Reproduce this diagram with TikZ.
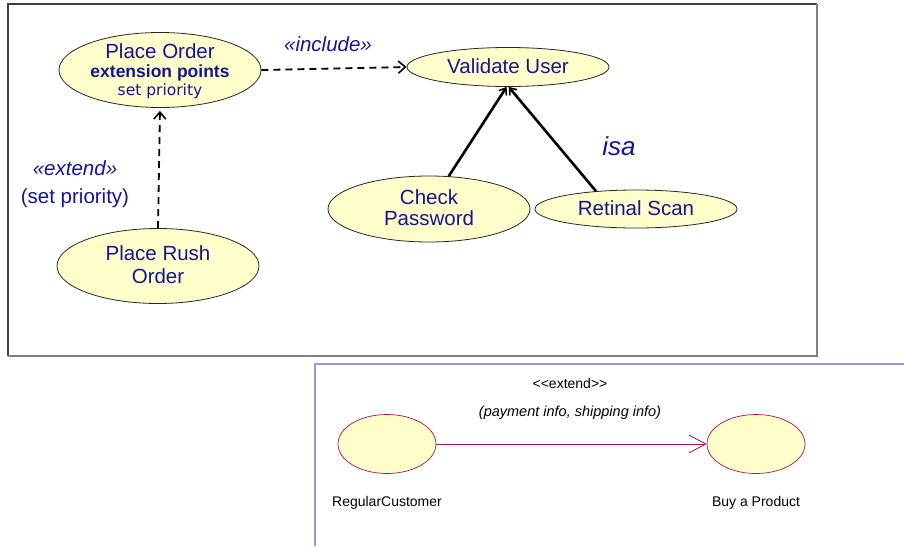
\documentclass[tikz,border=0pt]{standalone}
\usepackage{fontspec}
\setmainfont{Liberation Sans}
\newfontfamily\verd{DejaVu Sans}
\usetikzlibrary{shapes.geometric,arrows.meta}
\definecolor{navy}{RGB}{20,20,150}
\definecolor{ufill}{RGB}{255,255,204}
\definecolor{ured}{RGB}{170,20,70}
\definecolor{lblue}{RGB}{150,150,225}
\begin{document}
\begin{tikzpicture}[x=1pt,y=-1pt,
  uc/.style={ellipse, draw=black!85, line width=0.8pt, fill=ufill, inner sep=0pt},
  ucr/.style={ellipse, draw=ured, line width=0.7pt, fill=ufill, inner sep=0pt, minimum width=98pt, minimum height=59pt},
  lbl/.style={text=navy, inner sep=0pt, align=center, font=\fontsize{20.5}{23}\selectfont},
  small/.style={inner sep=0pt, font=\fontsize{14}{16}\selectfont},
  dashconn/.style={line width=1.8pt, dash pattern=on 7pt off 5pt, -{Straight Barb[length=7pt,width=12pt,line width=1.6pt]}},
  isaconn/.style={line width=2.6pt, -{Straight Barb[length=6pt,width=9pt,line width=1.6pt]}}
]
\useasboundingbox (0,0) rectangle (904,546);
% frames
\draw[line width=1.3pt, black!75] (8,356) -- (8,4) -- (817,4);
\draw[line width=1.3pt, black!50] (817,4) -- (817,356) -- (8,356);
\draw[line width=1.1pt, lblue] (904,364) -- (315,364) -- (315,546);

% use cases (top)
\node[uc, minimum width=202pt, minimum height=75pt] (po) at (160,70) {};
\node[uc, minimum width=202pt, minimum height=75pt] (pr) at (158,266) {};
\node[uc, minimum width=202pt, minimum height=39pt] (vu) at (508,67) {};
\node[uc, minimum width=202pt, minimum height=66pt] (cp) at (429,209) {};
\node[uc, minimum width=202pt, minimum height=38pt] (rs) at (636,209) {};

\node[lbl] (poT) at (160,51) {Place Order};
\node[lbl, font=\bfseries\fontsize{17.5}{20}\selectfont] (poE) at (160,72.5) {extension points};
\node[lbl, font=\verd\fontsize{15.5}{17}\selectfont] (poS) at (160,91) {set priority};
\node[lbl] (prT) at (158,265) {Place Rush\\Order};
\node[lbl] (vuT) at (508,66) {Validate User};
\node[lbl, align=center, font=\fontsize{20.5}{21}\selectfont] (cpT) at (429,208) {Check\\Password};
\node[lbl] (rsT) at (636,208) {Retinal Scan};

\node[lbl, font=\itshape\fontsize{20.5}{23}\selectfont] (inc) at (328,44) {«include»};
\node[lbl, font=\itshape\fontsize{20.5}{23}\selectfont] (ext) at (75,168) {«extend»};
\node[lbl] (sp) at (75,198) {(set priority)};
\node[lbl, font=\itshape\fontsize{26}{28}\selectfont] (isa) at (619,146) {isa};

% connectors (top)
\draw[dashconn] (po.east) -- (vu.west);
\draw[dashconn, shorten >=3pt] (pr.north) -- (po.south);
\draw[isaconn] (cp.59) -- (vu.266);
\draw[isaconn] (rs.156) -- (vu.272);

% lower diagram
\node[ucr] (rc) at (387,444) {};
\node[ucr] (bp) at (756,444) {};
\node[small] (rcT) at (387,503) {RegularCustomer};
\node[small] (bpT) at (756,503) {Buy a Product};
\node[small] (ext2) at (570,383) {<\kern0pt<extend>\kern0pt>};
\node[small, font=\itshape\fontsize{14.5}{16}\selectfont] (pay) at (570,413) {(payment info, shipping info)};
\draw[ured, line width=0.8pt, -{Straight Barb[length=17pt,width=18pt,line width=0.8pt]}] (rc.east) -- (bp.west);
\end{tikzpicture}
\end{document}
